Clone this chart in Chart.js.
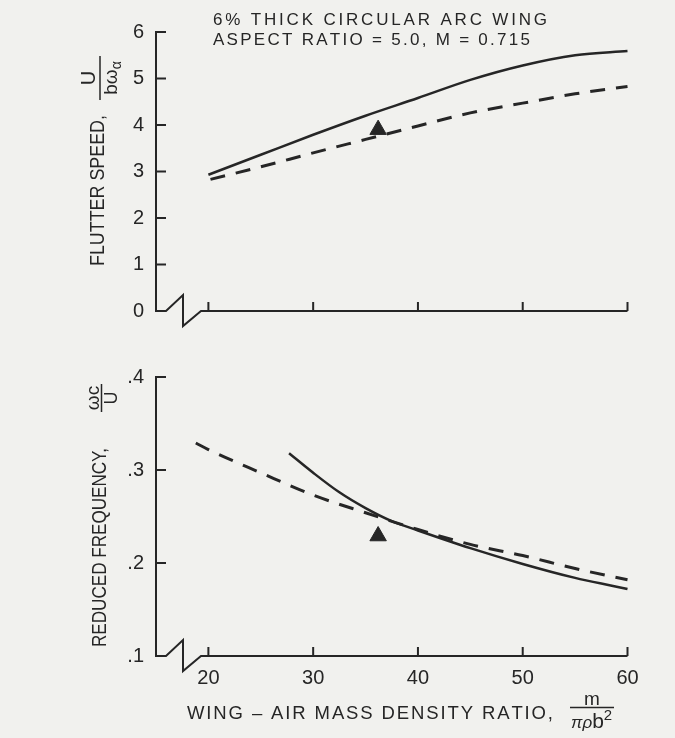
<!DOCTYPE html>
<html>
<head>
<meta charset="utf-8">
<script src="https://cdn.jsdelivr.net/npm/chart.js@4.4.1/dist/chart.umd.min.js"></script>
<style>
  html, body { margin: 0; padding: 0; background: #f1f1ee; }
  #wrap { position: relative; width: 675px; height: 738px; }
  #speedChart { position: absolute; left: 0; top: 0; }
  #freqChart { position: absolute; left: 0; top: 345px; }
</style>
</head>
<body>
<div id="wrap">
  <canvas id="speedChart" width="675" height="345"></canvas>
  <canvas id="freqChart" width="675" height="393"></canvas>
</div>
<script>
// mass ratio axis, shared by both panels
const xTicks = [20, 30, 40, 50, 60];

// flutter speed U / (b * omega_alpha)
const speedTicks = [0, 1, 2, 3, 4, 5, 6];
const speedSolidX = [20, 25, 30, 35, 40, 45, 50, 55, 60];
const speedSolid = [2.93, 3.36, 3.79, 4.20, 4.58, 4.97, 5.28, 5.50, 5.59];
const speedDashX = [20.2, 25, 30, 35, 40, 45, 50, 55, 60];
const speedDashed = [2.83, 3.10, 3.40, 3.69, 3.98, 4.26, 4.47, 4.67, 4.83];

// reduced frequency omega*c / U
const freqTicks = [0.1, 0.2, 0.3, 0.4];
const freqTickLabels = ['.1', '.2', '.3', '.4'];
const freqSolidX = [27.7, 30, 32.5, 35, 37.5, 40, 45, 50, 55, 60, 62];
const freqSolid = [0.318, 0.297, 0.276, 0.259, 0.245, 0.235, 0.216, 0.199, 0.184, 0.172, 0.166];
const freqDashX = [18.8, 20, 25, 30, 35, 40, 45, 50, 55, 60];
const freqDashed = [0.329, 0.322, 0.297, 0.273, 0.254, 0.236, 0.220, 0.208, 0.194, 0.182];

// experiment (triangle)
const testX = [36.2];
const speedTestY = [3.90];
const freqTestY = [0.229];

const ink = '#262626';
const fontFamily = '"Liberation Sans", Arial, Helvetica, sans-serif';
Chart.defaults.font.family = fontFamily;
Chart.defaults.color = ink;

function curve(xs, ys, dashed) {
    return {
        data: xs.map((x, i) => ({ x: x, y: ys[i] })),
        borderColor: ink,
        borderWidth: dashed ? 3 : 2.5,
        borderDash: dashed ? [15, 11] : [],
        pointRadius: 0,
        cubicInterpolationMode: 'monotone',
        fill: false,
        clip: false
    };
}

function marker(xs, ys) {
    return {
        data: xs.map((x, i) => ({ x: x, y: ys[i] })),
        showLine: false,
        pointStyle: 'triangle',
        pointRadius: 9.5,
        backgroundColor: ink,
        borderColor: ink,
        borderWidth: 1,
        clip: false
    };
}

// text spread over a given width (wide tracking of the original lettering)
function spread(ctx, str, x, y, width) {
    const chars = Array.from(str);
    const natural = chars.reduce((s, c) => s + ctx.measureText(c).width, 0);
    const gap = chars.length > 1 ? (width - natural) / (chars.length - 1) : 0;
    let cx = x;
    chars.forEach(c => {
        ctx.fillText(c, cx, y);
        cx += ctx.measureText(c).width + gap;
    });
}

// text squeezed to a given length, optionally rotated
function squeeze(ctx, str, x, y, width, angle) {
    ctx.save();
    ctx.translate(x, y);
    if (angle) ctx.rotate(angle);
    ctx.scale(width / ctx.measureText(str).width, 1);
    ctx.fillText(str, 0, 0);
    ctx.restore();
}

// runs of differently sized text (for the little fractions)
function runs(ctx, x, y, angle, parts, centered) {
    const fontOf = p => (p.style || '') + ' ' + p.size + 'px ' + fontFamily;
    let total = 0;
    parts.forEach(p => { ctx.font = fontOf(p); total += ctx.measureText(p.text).width; });
    ctx.save();
    ctx.translate(x, y);
    ctx.rotate(angle);
    let cx = centered ? -total / 2 : 0;
    parts.forEach(p => {
        ctx.font = fontOf(p);
        ctx.fillText(p.text, cx, p.dy || 0);
        cx += ctx.measureText(p.text).width;
    });
    ctx.restore();
}

// axis line with break mark and inward ticks
const axisFrame = {
    id: 'axisFrame',
    afterDraw(chart) {
        const { ctx, chartArea, scales } = chart;
        const { left, right, bottom } = chartArea;
        ctx.save();
        ctx.strokeStyle = ink;
        ctx.lineWidth = 2;
        ctx.beginPath();
        ctx.moveTo(left, bottom);
        ctx.lineTo(left + 10, bottom);
        ctx.lineTo(left + 27, bottom - 16);
        ctx.lineTo(left + 27, bottom + 15);
        ctx.lineTo(left + 45, bottom);
        ctx.lineTo(right, bottom);
        scales.x.ticks.forEach(t => {
            const px = scales.x.getPixelForValue(t.value);
            ctx.moveTo(px, bottom);
            ctx.lineTo(px, bottom - 9);
        });
        scales.y.ticks.forEach(t => {
            const py = scales.y.getPixelForValue(t.value);
            ctx.moveTo(left, py);
            ctx.lineTo(left + 10, py);
        });
        ctx.stroke();
        ctx.restore();
    }
};

const speedText = {
    id: 'speedText',
    afterDraw(chart) {
        const ctx = chart.ctx;
        ctx.save();
        ctx.fillStyle = ink;
        ctx.strokeStyle = ink;
        ctx.font = '17px ' + fontFamily;
        spread(ctx, '6% THICK CIRCULAR ARC WING', 213, 24.5, 334);
        spread(ctx, 'ASPECT RATIO = 5.0, M = 0.715', 213, 44.5, 317);
        ctx.font = '21px ' + fontFamily;
        squeeze(ctx, 'FLUTTER SPEED,', 103.5, 266, 151, -Math.PI / 2);
        ctx.lineWidth = 1.5;
        ctx.beginPath();
        ctx.moveTo(100, 100);
        ctx.lineTo(100, 56);
        ctx.stroke();
        runs(ctx, 95, 78, -Math.PI / 2, [{ text: 'U', size: 20 }], true);
        runs(ctx, 117, 78, -Math.PI / 2, [{ text: 'bω', size: 19 }, { text: 'α', size: 14, dy: 4 }], true);
        ctx.restore();
    }
};

const freqText = {
    id: 'freqText',
    afterDraw(chart) {
        const ctx = chart.ctx;
        ctx.save();
        ctx.fillStyle = ink;
        ctx.strokeStyle = ink;
        ctx.font = '21px ' + fontFamily;
        squeeze(ctx, 'REDUCED FREQUENCY,', 105.5, 302, 199, -Math.PI / 2);
        ctx.lineWidth = 1.5;
        ctx.beginPath();
        ctx.moveTo(101.5, 67);
        ctx.lineTo(101.5, 39);
        ctx.stroke();
        runs(ctx, 98.5, 53, -Math.PI / 2, [{ text: 'ωc', size: 19 }], true);
        runs(ctx, 117, 53, -Math.PI / 2, [{ text: 'U', size: 18 }], true);

        ctx.font = '18.5px ' + fontFamily;
        spread(ctx, 'WING – AIR MASS DENSITY RATIO,', 187, 373.5, 366);
        runs(ctx, 592, 360, 0, [{ text: 'm', size: 19 }], true);
        ctx.beginPath();
        ctx.moveTo(570, 362.5);
        ctx.lineTo(614, 362.5);
        ctx.stroke();
        runs(ctx, 571, 383, 0, [
            { text: 'πρ', size: 17, style: 'italic' },
            { text: 'b', size: 21 },
            { text: '2', size: 15, dy: -8 }
        ], false);
        ctx.restore();
    }
};

function panel(canvasId, datasets, yMin, yMax, yTicks, yLabels, showX, xHeight, textPlugin) {
    const ctx = document.getElementById(canvasId).getContext('2d');
    return new Chart(ctx, {
        type: 'line',
        data: { datasets: datasets },
        options: {
            responsive: false,
            animation: false,
            layout: { padding: { left: 0, right: 47.5, top: 32, bottom: 0 } },
            plugins: { legend: { display: false }, tooltip: { enabled: false } },
            scales: {
                x: {
                    type: 'linear',
                    min: 15,
                    max: 60,
                    afterBuildTicks: s => { s.ticks = xTicks.map(v => ({ value: v })); },
                    afterFit: s => { s.height = xHeight; },
                    grid: { display: false, drawTicks: false },
                    border: { display: false },
                    ticks: { display: showX, font: { size: 20 }, padding: 10, maxRotation: 0, autoSkip: false }
                },
                y: {
                    type: 'linear',
                    min: yMin,
                    max: yMax,
                    afterBuildTicks: s => { s.ticks = yTicks.map(v => ({ value: v })); },
                    afterFit: s => { s.width = 156; },
                    grid: { display: false, drawTicks: false },
                    border: { display: true, color: ink, width: 2 },
                    ticks: { font: { size: 20 }, padding: 12, callback: (v, i) => yLabels[i] }
                }
            }
        },
        plugins: [axisFrame, textPlugin]
    });
}

panel('speedChart', [
    curve(speedSolidX, speedSolid, false),
    curve(speedDashX, speedDashed, true),
    marker(testX, speedTestY)
], 0, 6, speedTicks, speedTicks.map(String), false, 34, speedText);

panel('freqChart', [
    curve(freqSolidX, freqSolid, false),
    curve(freqDashX, freqDashed, true),
    marker(testX, freqTestY)
], 0.1, 0.4, freqTicks, freqTickLabels, true, 82, freqText);
</script>
</body>
</html>
